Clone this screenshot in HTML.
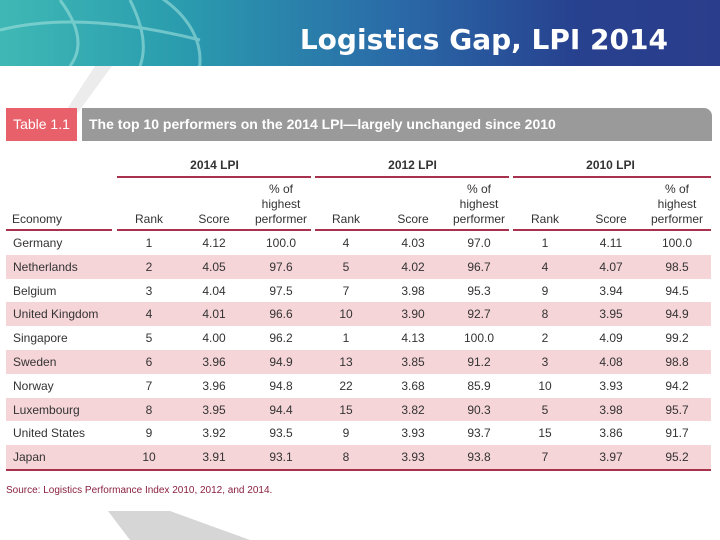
<!DOCTYPE html>
<html><head><meta charset="utf-8"><style>
body{margin:0;width:720px;height:540px;position:relative;overflow:hidden;background:#fff;font-family:"Liberation Sans Narrow","Liberation Sans",sans-serif;}
.abs{position:absolute}
#hdr{left:0;top:0;width:720px;height:66px;background:linear-gradient(90deg,#3fb8b5 0%,#2a9cae 25%,#2a6aa8 55%,#27418f 80%,#2a3d8c 100%);}
#title{right:52px;top:23px;font-family:"DejaVu Sans","Liberation Sans",sans-serif;font-weight:bold;font-size:28px;color:#fff;}
.c{position:absolute;text-align:center;font-size:12px;color:#333;}
.line{position:absolute;height:2px;background:#a8324e}
</style></head><body>
<div id="hdr" class="abs"></div>
<svg class="abs" style="left:0;top:0" width="260" height="66"><g stroke="#9ee0dc" stroke-width="3" fill="none" opacity="0.6"><ellipse cx="60" cy="60" rx="140" ry="90"/><path d="M0 30 Q80 10 200 40"/><path d="M60 0 Q90 40 70 66"/><path d="M130 0 Q150 40 140 66"/></g></svg>
<svg class="abs" style="left:0;top:66px" width="720" height="474"><path d="M95 0 L112 0 L68 60 L56 60 Z" fill="#ececec"/><path d="M108 445 L170 445 L250 474 L130 474 Z" fill="#d6d6d6"/></svg>
<div id="title" class="abs">Logistics Gap, LPI 2014</div>
<div class="abs" style="left:6px;top:108px;width:71px;height:33px;background:#e8606a;color:#fff;font-size:14px;line-height:33px;text-align:center">Table 1.1</div>
<div class="abs" style="left:82px;top:108px;width:630px;height:33px;background:#9a9a9a;color:#fff;font-family:'Liberation Sans',sans-serif;font-weight:bold;font-size:14px;line-height:33px;padding-left:7px;box-sizing:border-box;border-radius:0 8px 0 0">The top 10 performers on the 2014 LPI—largely unchanged since 2010</div>
<div id="tbl"></div>
<div class="abs" style="left:6px;top:485px;font-size:10px;color:#8a2040">Source: Logistics Performance Index 2010, 2012, and 2014.</div>
<script>
const economies=["Germany","Netherlands","Belgium","United Kingdom","Singapore","Sweden","Norway","Luxembourg","United States","Japan"];
const rank2014=[1,2,3,4,5,6,7,8,9,10];
const score2014=["4.12","4.05","4.04","4.01","4.00","3.96","3.96","3.95","3.92","3.91"];
const pct2014=["100.0","97.6","97.5","96.6","96.2","94.9","94.8","94.4","93.5","93.1"];
const rank2012=[4,5,7,10,1,13,22,15,9,8];
const score2012=["4.03","4.02","3.98","3.90","4.13","3.85","3.68","3.82","3.93","3.93"];
const pct2012=["97.0","96.7","95.3","92.7","100.0","91.2","85.9","90.3","93.7","93.8"];
const rank2010=[1,4,9,8,2,3,10,5,15,7];
const score2010=["4.11","4.07","3.94","3.95","4.09","4.08","3.93","3.98","3.86","3.97"];
const pct2010=["100.0","98.5","94.5","94.9","99.2","98.8","94.2","95.7","91.7","95.2"];
const groups=["2014 LPI","2012 LPI","2010 LPI"];
const T=document.getElementById('tbl');
const cx=[149,214,281,346,413,479,545,611,677];
function add(html,style,name){const d=document.createElement('div');d.className='c';d.innerHTML=html;d.style.cssText=style;


T.appendChild(d);return d;}
groups.forEach((g,i)=>{add(g,`left:${117+i*198}px;width:195px;top:158px;font-weight:bold`,'group-header');
const l=add('',`left:${117+i*198}px;width:${i==2?198:194}px;top:176px;height:2px;background:#a8324e`,'group-rule');l.className='line';
['Rank','Score','% of<br>highest<br>performer'].forEach((s,j)=>{const x=cx[i*3+j];add(s,`left:${x-35}px;width:70px;top:${j==2?182:212}px;line-height:15px`,'column-header');});
const l2=add('',`left:${117+i*198}px;width:${i==2?198:194}px;top:229px;height:2px;background:#a8324e`,'header-rule');l2.className='line';});
add('Economy','left:12px;top:212px;line-height:15px;text-align:left','economy-header');
const l3=add('','left:6px;width:106px;top:229px;height:2px;background:#a8324e','header-rule');l3.className='line';
economies.forEach((e,r)=>{const y=231+r*23.8;
add('',`left:6px;width:705px;top:${y}px;height:23.8px;background:${r%2?'#f6d5d8':'transparent'}`,'row-background');
add(e,`left:13px;top:${y+5}px;text-align:left`,'economy-name');
[rank2014[r],score2014[r],pct2014[r],rank2012[r],score2012[r],pct2012[r],rank2010[r],score2010[r],pct2010[r]].forEach((v,j)=>{
add(String(v),`left:${cx[j]-30}px;width:60px;top:${y+5}px`,'table-cell');});});
const lb=add('','left:6px;width:705px;top:469px;height:2px;background:#a8324e','bottom-rule');lb.className='line';
</script>
</body></html>
